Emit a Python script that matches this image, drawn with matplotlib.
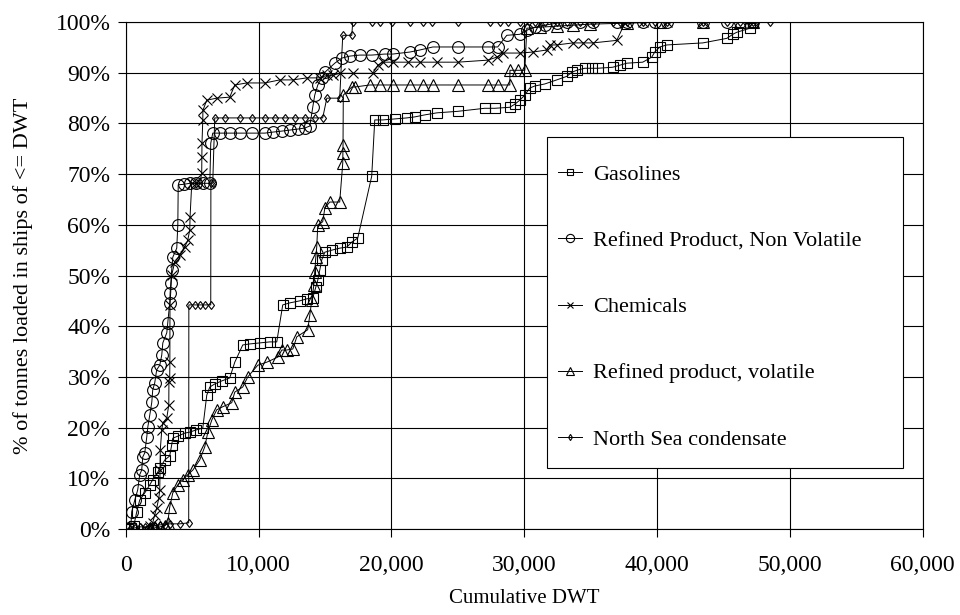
import matplotlib
matplotlib.use("Agg")
import matplotlib.pyplot as plt
from matplotlib.patches import Rectangle
from matplotlib.ticker import FuncFormatter, MultipleLocator

plt.rcParams['font.family'] = ['Liberation Serif', 'DejaVu Serif']

# cumulative share of tonnes loaded vs ship size (DWT)
gas_dwt = [150, 380, 600, 830, 1050, 1430, 1810, 2030, 2410, 2560, 2940, 3310, 3460, 3540,
           3920, 4440, 4820, 5270, 5800, 6100, 6330, 6700, 7230, 7830, 8210, 8810, 9340,
           10090, 10840, 11370, 11820, 12350, 13100, 13630, 14080, 14310, 14460, 14610,
           14760, 14990, 15510, 16110, 16640, 17020, 17470, 18520, 18750, 19350, 20260,
           21160, 21760, 22520, 23420, 25000, 27030, 27790, 28920, 29290, 29670, 30050,
           30420, 30800, 31550, 32450, 33210, 33580, 33960, 34560, 35090, 35540, 36670,
           37200, 37730, 38930, 39610, 39830, 40210, 40740, 43450, 45260, 45710, 46010,
           46990, 47210, 60500]
gas_pct = [0, 0.2, 0.6, 3.4, 5.7, 7.1, 8.7, 9.7, 11.2, 12.0, 13.6, 14.4, 16.6, 17.9, 18.3,
           18.9, 19.1, 19.5, 19.9, 26.4, 28.0, 28.6, 29.2, 29.8, 32.9, 36.3, 36.5, 36.7,
           36.9, 36.9, 44.2, 44.6, 45.0, 45.4, 45.6, 47.7, 49.1, 51.1, 53.1, 54.6, 55.0,
           55.4, 55.6, 56.6, 57.4, 69.6, 80.7, 80.7, 80.9, 81.1, 81.3, 81.7, 82.1, 82.4,
           83.0, 83.0, 83.2, 83.8, 84.6, 85.6, 87.0, 87.4, 87.8, 88.6, 89.3, 90.1, 90.5,
           90.9, 90.9, 90.9, 91.1, 91.5, 91.9, 92.1, 93.1, 94.1, 95.1, 95.5, 95.9, 96.8,
           97.6, 98.0, 98.8, 100, 100]

rpnv_dwt = [380, 450, 680, 900, 1050, 1200, 1280, 1430, 1580, 1660, 1810, 1960, 2030, 2180,
            2330, 2560, 2710, 2790, 3090, 3160, 3310, 3340, 3390, 3460, 3540, 3840, 3920,
            3950, 4370, 4820, 5270, 5800, 6330, 6400, 6550, 7080, 7830, 8580, 9490, 10470,
            11070, 11750, 12350, 12950, 13480, 13860, 14080, 14230, 14460, 14760, 14990,
            15740, 16260, 16870, 17620, 18520, 19500, 20100, 21390, 22140, 23120, 25000,
            27260, 28010, 28690, 29670, 30200, 30800, 31550, 32450, 33210, 34190, 35170,
            36970, 37730, 38930, 39830, 40740, 43450, 45260, 46230, 47210]
rpnv_pct = [0.4, 3.4, 5.7, 7.7, 10.7, 11.6, 14.2, 15.0, 18.1, 20.1, 22.5, 25.0, 27.4, 28.8,
            31.4, 32.3, 34.3, 36.7, 38.7, 40.6, 44.6, 46.5, 48.5, 51.1, 53.6, 55.4, 60.0,
            67.9, 68.0, 68.2, 68.2, 68.2, 68.2, 76.1, 78.1, 78.1, 78.1, 78.1, 78.1, 78.1,
            78.3, 78.5, 78.7, 78.9, 79.1, 79.5, 83.2, 85.6, 87.6, 89.0, 90.1, 91.9, 92.9,
            93.3, 93.5, 93.5, 93.7, 93.7, 94.1, 94.5, 95.1, 95.1, 95.1, 95.1, 97.4, 97.6,
            98.4, 99.0, 99.4, 99.8, 100, 100, 100, 100, 100, 100, 100, 100, 100, 100, 100,
            100]

chem_dwt = [1430, 1810, 2030, 2180, 2330, 2490, 2560, 2580, 2600, 2710, 2790, 3090, 3240,
            3250, 3310, 3320, 3330, 3460, 3690, 4070, 4440, 4670, 4820, 4840, 4970, 5270,
            5570, 5720, 5730, 5740, 5800, 5810, 6100, 6850, 7830, 8210, 9110, 10470, 11600,
            12580, 13630, 14610, 15140, 15590, 16110, 17090, 18600, 18980, 19350, 20110,
            21240, 22140, 23420, 25000, 27260, 27940, 28390, 29670, 30650, 31700, 31930,
            32450, 33660, 34410, 35170, 36970, 37580, 38930, 40740, 43450, 47210]
chem_pct = [0.2, 0.6, 1.2, 2.8, 4.1, 6.1, 7.7, 11.6, 15.6, 19.5, 20.9, 21.9, 24.5, 29.0,
            29.8, 32.9, 44.2, 50.1, 52.7, 54.0, 55.6, 57.0, 59.0, 61.5, 68.2, 68.2, 68.2,
            70.2, 73.4, 76.1, 80.7, 82.6, 84.6, 85.0, 85.2, 87.6, 88.0, 88.0, 88.6, 88.6,
            89.0, 89.0, 89.5, 89.5, 89.9, 89.9, 89.9, 91.5, 92.1, 92.1, 92.1, 92.1, 92.1,
            92.1, 92.5, 93.1, 93.9, 93.9, 94.1, 94.5, 95.5, 95.5, 95.9, 95.9, 95.9, 96.4,
            99.8, 100, 100, 100, 100]

rpv_dwt = [1810, 2180, 2560, 2940, 3160, 3310, 3540, 3920, 4290, 4670, 5050, 5570, 5950,
           6180, 6480, 6850, 7300, 7980, 8210, 8810, 9190, 9940, 10620, 11450, 11750, 12120,
           12580, 12880, 13700, 13860, 14010, 14160, 14230, 14310, 14380, 14460, 14830,
           14990, 15360, 16110, 16340, 16350, 16360, 16380, 17020, 17240, 18370, 19130,
           20110, 21390, 22360, 23120, 25000, 27260, 28010, 28920, 28930, 29520, 30050,
           30200, 31170, 32450, 33660, 34940, 37730, 40210, 43450, 46230, 47210]
rpv_pct = [0, 0.2, 0.4, 0.6, 1.2, 4.3, 7.1, 8.7, 9.7, 10.7, 11.6, 13.6, 16.2, 19.1, 21.5,
           23.5, 24.1, 24.9, 27.0, 28.0, 30.0, 32.3, 32.9, 33.9, 35.3, 35.3, 35.5, 37.9,
           39.3, 42.2, 45.2, 48.1, 50.7, 53.6, 55.6, 60.0, 60.6, 63.3, 64.5, 64.5, 72.2,
           74.2, 75.7, 85.6, 87.2, 87.2, 87.6, 87.6, 87.6, 87.6, 87.6, 87.6, 87.6, 87.6,
           87.6, 87.6, 90.5, 90.5, 90.5, 98.8, 99.0, 99.2, 99.4, 99.6, 99.8, 100, 100, 100,
           100]

nsc_dwt = [300, 680, 1050, 1430, 1810, 2180, 2560, 2940, 3310, 4070, 4740, 4750, 5200, 5570,
           5950, 6400, 6410, 6550, 6700, 7450, 8580, 9490, 10470, 11220, 11970, 12730,
           13480, 14230, 14830, 15140, 16110, 16340, 17020, 17090, 18520, 19130, 20030,
           21390, 22360, 23040, 25000, 27410, 28160, 28770, 29670, 30800, 31550, 32450,
           33210, 34190, 35170, 36670, 37200, 37730, 38930, 39830, 40740, 43450, 45260,
           46230, 47210, 48490]
nsc_pct = [0, 0.2, 0.4, 0.4, 0.6, 0.6, 0.8, 0.8, 1.0, 1.0, 1.2, 44.2, 44.2, 44.2, 44.2,
           44.2, 68.2, 68.2, 81.1, 81.1, 81.1, 81.1, 81.1, 81.1, 81.1, 81.1, 81.1, 81.1,
           81.1, 85.0, 85.0, 97.4, 97.4, 100, 100, 100, 100, 100, 100, 100, 100, 100, 100,
           100, 100, 100, 100, 100, 100, 100, 100, 100, 100, 100, 100, 100, 100, 100, 100,
           100, 100, 100]

series = [
    ("Gasolines", gas_dwt, gas_pct, "s", 7.0),
    ("Refined Product, Non Volatile", rpnv_dwt, rpnv_pct, "o", 8.5),
    ("Chemicals", chem_dwt, chem_pct, "x", 7.0),
    ("Refined product, volatile", rpv_dwt, rpv_pct, "^", 8.0),
    ("North Sea condensate", nsc_dwt, nsc_pct, "d", 4.5),
]

fig = plt.figure(figsize=(9.6, 6.15), dpi=100)
ax = fig.add_axes([0.131, 0.140, 0.830, 0.824])

for name, xs, ys, mk, ms in series:
    # last gasoline point only carries the line out to the axis edge
    every = slice(0, len(xs) - 1) if name == "Gasolines" else None
    ax.plot(xs, ys, color="black", lw=0.7, marker=mk, ms=ms, mfc="none",
            mec="black", mew=0.8, markevery=every, label=name)

ax.set_xlim(0, 60000)
ax.set_ylim(0, 100)
ax.xaxis.set_major_locator(MultipleLocator(10000))
ax.yaxis.set_major_locator(MultipleLocator(10))
ax.xaxis.set_major_formatter(FuncFormatter(lambda v, p: f"{int(v):,}"))
ax.yaxis.set_major_formatter(FuncFormatter(lambda v, p: f"{int(v)}%"))
ax.grid(True, color="black", lw=0.8)
ax.tick_params(direction="out", length=6, width=0.8, labelsize=17)
ax.tick_params(axis="x", pad=13)
ax.tick_params(axis="y", pad=5)
for sp in ax.spines.values():
    sp.set_color("black")
    sp.set_linewidth(0.8)

ax.set_xlabel("Cumulative DWT", fontsize=15, labelpad=9)
ax.set_ylabel("% of tonnes loaded in ships of <= DWT", fontsize=16, labelpad=16)

# legend box drawn separately so the entries can sit with a narrow left margin
box = Rectangle((0.529, 0.120), 0.447, 0.653, transform=ax.transAxes,
                fc="white", ec="black", lw=0.8, zorder=5)
ax.add_patch(box)
leg = ax.legend(loc="upper left", bbox_to_anchor=(0.542, 0.719), frameon=False,
                fontsize=16, borderpad=0, borderaxespad=0, labelspacing=2.05,
                handlelength=1.1, handletextpad=0.5, markerscale=0.7)
leg.set_zorder(6)

fig.savefig("out.png", dpi=100)
